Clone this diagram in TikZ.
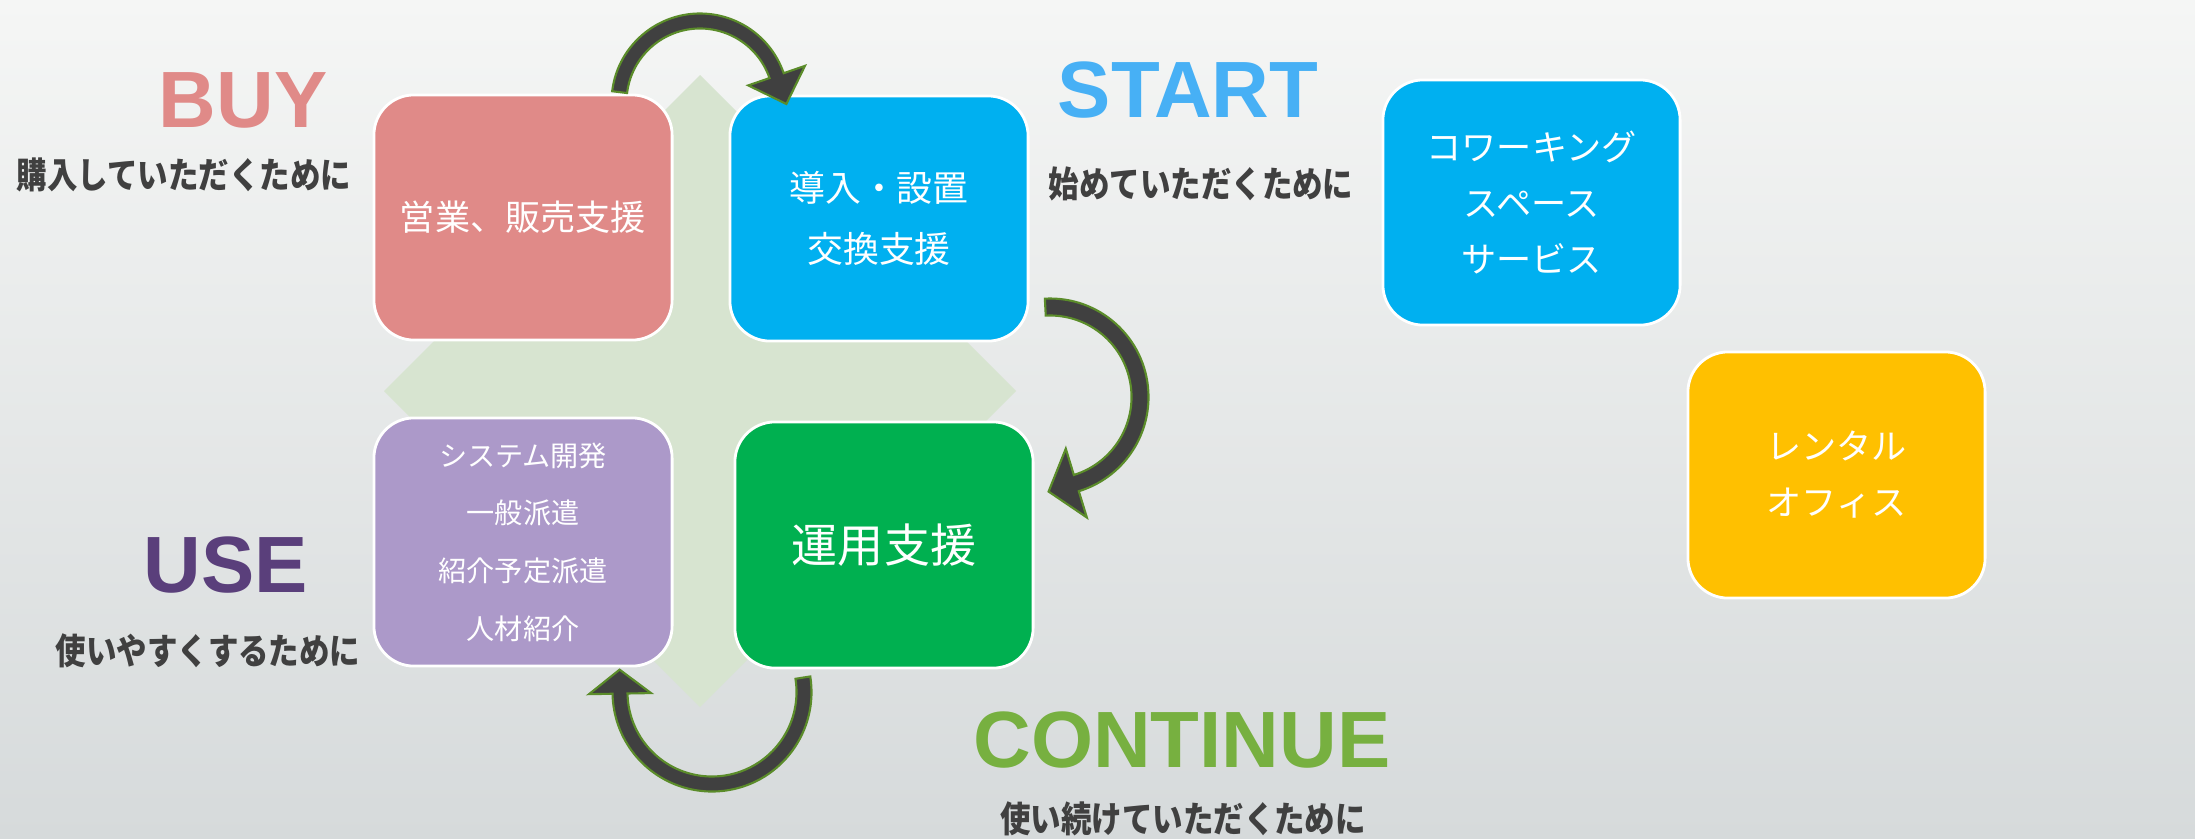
\documentclass[tikz,border=0pt]{standalone}
\usepackage{fontspec}
\setmainfont{Liberation Sans}
\newfontfamily\jpfont{Noto Sans CJK JP}
\newfontfamily\jpcond[FakeStretch=0.85]{Noto Sans CJK JP}
\usetikzlibrary{calc}
\definecolor{bgtop}{HTML}{F5F6F5}
\definecolor{bgbot}{HTML}{D6DADB}
\definecolor{diamondc}{HTML}{D7E4D0}
\definecolor{buyc}{HTML}{E08A88}
\definecolor{startc}{HTML}{47B0F5}
\definecolor{usec}{HTML}{5A3F7B}
\definecolor{contc}{HTML}{77B040}
\definecolor{subc}{HTML}{404040}
\definecolor{redbox}{HTML}{E08A88}
\definecolor{bluebox}{HTML}{00B0F0}
\definecolor{purplebox}{HTML}{AC99C9}
\definecolor{greenbox}{HTML}{00B050}
\definecolor{yellowbox}{HTML}{FFC000}
\definecolor{arrfill}{HTML}{404040}
\definecolor{arrline}{HTML}{5B8C2A}
\newcommand{\cycarrow}[7]{%
 \draw[cyclearrow] ($(#1)+({#4}:{#2+#3})$) arc[start angle=#4, end angle=#5, radius=#2+#3]
 -- ($(#1)+({#5}:{#2+#6})$) -- ($(#1)+({#5}:{#2})+({#5-90}:{#7})$) -- ($(#1)+({#5}:{#2-#6})$) -- ($(#1)+({#5}:{#2-#3})$)
 arc[start angle=#5, end angle=#4, radius=#2-#3] -- cycle;}
\tikzset{
  box/.style={draw=white, line width=0.8pt, rounded corners=0.4cm, minimum width=2.98cm, minimum height=2.45cm, inner sep=0pt, text=white, align=center},
  biglabel/.style={font=\fontsize{22.7pt}{24pt}\selectfont\bfseries, inner sep=0pt},
  sublabel/.style={font=\jpcond\bfseries\fontsize{10.2pt}{12pt}\selectfont, text=subc, inner sep=0pt},
  cyclearrow/.style={fill=arrfill, draw=arrline, line width=0.6pt, line join=miter}
}
\begin{document}
\begin{tikzpicture}[x=0.01cm, y=0.01cm]
\useasboundingbox (0,0) rectangle (2195,838);
\shade[top color=bgtop, bottom color=bgbot] (0,0) rectangle (2195,838);
% diamond
\fill[diamondc] (700,763) -- (1016,447) -- (700,131) -- (384,447) -- cycle;
% boxes
\node[box, fill=redbox, font=\jpfont\fontsize{10pt}{12pt}\selectfont] (buybox) at (523,620.5) {営業、販売支援};
\node[box, fill=bluebox, font=\jpfont\fontsize{10.2pt}{17.4pt}\selectfont] (startbox) at (879,619.5) {導入・設置\\交換支援};
\node[box, fill=purplebox, minimum height=2.48cm, font=\jpfont\fontsize{8pt}{16.4pt}\selectfont] (usebox) at (523,296) {システム開発\\一般派遣\\紹介予定派遣\\人材紹介};
\node[box, fill=greenbox, minimum height=2.46cm, font=\jpfont\fontsize{13.1pt}{15pt}\selectfont] (contbox) at (884,293) {運用支援};
\node[box, fill=bluebox, minimum width=2.97cm, font=\jpfont\fontsize{10pt}{15.9pt}\selectfont] (cowork) at (1531.5,635.5) {コワーキング\\スペース\\サービス};
\node[box, fill=yellowbox, minimum width=2.97cm, minimum height=2.46cm, font=\jpfont\fontsize{10pt}{15.9pt}\selectfont] (rental) at (1836.5,363) {レンタル\\オフィス};
% labels
\node[biglabel, text=buyc] (buy) at (243,738) {BUY};
\node[sublabel] (buysub) at (184,663) {購入していただくために};
\node[biglabel, text=startc] (start) at (1188,748) {START};
\node[sublabel] (startsub) at (1201,654) {始めていただくために};
\node[biglabel, text=usec] (use) at (226,273) {USE};
\node[sublabel] (usesub) at (208,187) {使いやすくするために};
\node[biglabel, text=contc] (cont) at (1182,98) {CONTINUE};
\node[sublabel] (contsub) at (1183,19) {使い続けていただくために};
% arrow centres
\coordinate (c1) at (700,736);
\coordinate (c2) at (1050,441);
\coordinate (c3) at (712,146);
\cycarrow{c1}{81}{7.5}{173}{19}{30}{30}
\cycarrow{c2}{90}{8.5}{93}{-73}{36}{29}
\cycarrow{c3}{92}{7.5}{9}{-179}{31}{24}
\end{tikzpicture}
\end{document}
